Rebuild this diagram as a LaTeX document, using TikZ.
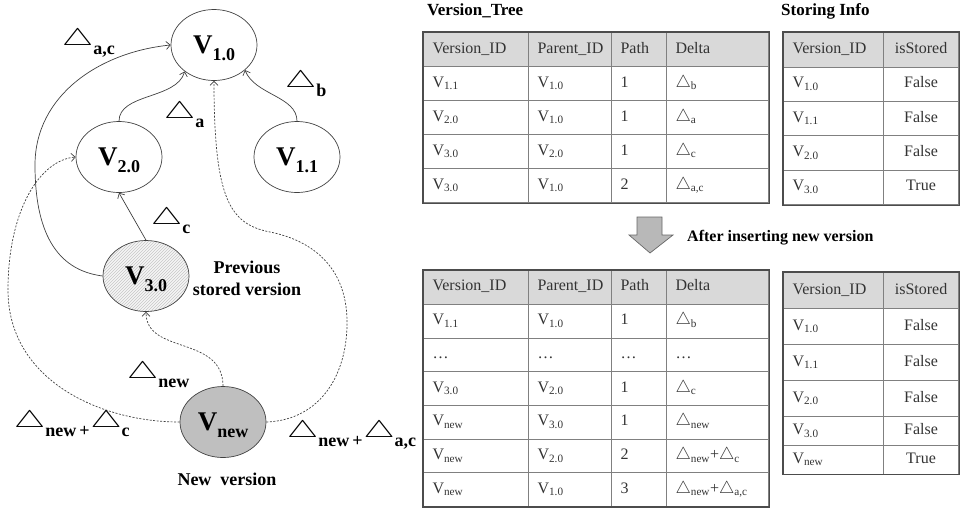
\documentclass[tikz,border=0pt]{standalone}
\usepackage{fontspec}
\setmainfont{Liberation Serif}
\usepackage{graphicx}
\usetikzlibrary{shapes.geometric,patterns,matrix,arrows.meta}

\definecolor{hdgray}{HTML}{D9D9D9}
\definecolor{lngray}{HTML}{404040}
\newcommand{\tabfont}{\fontsize{16}{19}\selectfont}
\newcommand{\grfont}{\fontsize{18}{22}\selectfont\bfseries}
\newcommand{\dl}{$\bigtriangleup$}
\newcommand{\bigdl}{\scalebox{3.5}[2.4]{\fontsize{10}{10}\selectfont$\bigtriangleup$}}
\newcommand{\dsub}[1]{\raisebox{-9pt}{#1}}
\newcommand{\vlab}[1]{{\fontsize{27}{27}\selectfont V}\raisebox{-7pt}{#1}}
\newcommand{\vs}[1]{V\textsubscript{#1}}

\begin{document}
\begin{tikzpicture}[%
  x=1pt, y=-1pt,
  ver/.style={ellipse, draw=lngray, line width=0.7pt, minimum width=86pt,
    minimum height=71pt, inner sep=0pt, font=\grfont, text depth=0pt},
  stored/.style={preaction={fill=black!4}, pattern=north east lines,
    pattern color=black!22},
  newv/.style={fill=black!25},
  edge/.style={draw=lngray, line width=0.7pt,
    -{Straight Barb[length=4pt,width=8pt]}},
  dedge/.style={edge, dash pattern=on 2pt off 1.5pt},
  dlab/.style={font=\grfont, anchor=base west, inner sep=0pt},
  txt/.style={font=\grfont, align=center, inner sep=0pt},
  ttl/.style={font=\fontsize{17}{20}\selectfont\bfseries, anchor=base west,
    inner sep=0pt},
  cell/.style={draw=gray, line width=0.7pt, inner xsep=9pt, inner ysep=0pt,
    text height=11pt, text depth=4pt, align=left, font=\tabfont,
    text=black!80, anchor=center},
  tbl/.style={matrix of nodes, nodes in empty cells, inner sep=0pt,
    anchor=north west, column sep=-0.7pt, row sep=-0.7pt, nodes={cell},
    row 1/.style={nodes={fill=hdgray}}},
  vcols/.style={column 1/.style={nodes={text width=87pt}},
    column 2/.style={nodes={text width=65pt}},
    column 3/.style={nodes={text width=37pt}},
    column 4/.style={nodes={text width=84pt}}},
  scols/.style={column 1/.style={nodes={text width=82pt}},
    column 2/.style={nodes={text width=57pt, align=center}}},
  tblout/.style={draw=black!70, line width=1.2pt},
  bigarrow/.style={draw=black!60, line width=0.7pt, fill=black!28}]

  \useasboundingbox (0,0) rectangle (960,507);

  % version graph
  \node[ver] (v10) at (214,45) {\vlab{1.0}};
  \node[ver] (v20) at (119,157) {\vlab{2.0}};
  \node[ver] (v11) at (297,157) {\vlab{1.1}};
  \node[ver, stored] (v30) at (146,276) {\vlab{3.0}};
  \node[ver, newv] (vnew) at (223,422) {\vlab{new}};

  \draw[edge] (v30.north) -- (v20.south);
  \draw[edge] (v20.north) .. controls +(0,-28) and +(-8,28) .. (v10.222);
  \draw[edge] (v11.north) .. controls +(0,-25) and +(10,25) .. (v10.-39);
  \draw[edge] (v30.west) .. controls (55,270) and (35,230) .. (35,165)
    .. controls (35,95) and (100,52) .. (v10.west);
  \draw[dedge] (vnew.west) .. controls (100,422) and (8,380) .. (8,290)
    .. controls (8,210) and (40,160) .. (v20.west);
  \draw[dedge] (vnew.east) .. controls (320,420) and (348,375) .. (347,320)
    .. controls (346,265) and (310,240) .. (270,232)
    .. controls (230,224) and (214,200) .. (v10.south);
  \draw[dedge] (vnew.north) .. controls (223,335) and (146,355) .. (v30.south);

  \node[dlab] (dac) at (62,45) {\bigdl\dsub{a,c}};
  \node[dlab] (da) at (164,118) {\bigdl\dsub{a}};
  \node[dlab] (db) at (285,87) {\bigdl\dsub{b}};
  \node[dlab] (dc) at (151,224) {\bigdl\dsub{c}};
  \node[dlab] (dnew) at (127,378) {\bigdl\dsub{new}};
  \node[dlab] (dnc) at (14,427)
    {\bigdl\dsub{new\,+}\hspace{1pt}\bigdl\dsub{c}};
  \node[dlab] (dnac) at (287,437)
    {\bigdl\dsub{new\,+}\hspace{1pt}\bigdl\dsub{a,c}};

  \node[txt] (prev) at (247,278) {Previous\\stored version};
  \node[txt] (newl) at (227,479) {New~~version};

  % tables
  \node[ttl] (ttree) at (427,15) {Version\_Tree};
  \node[ttl] (tstore) at (781,15) {Storing Info};

  \matrix (vtree) at (423,32) [tbl, vcols, nodes={minimum height=34pt}] {
    Version\_ID & Parent\_ID & Path & Delta \\
    \vs{1.1} & \vs{1.0} & 1 & \dl\textsubscript{b} \\
    \vs{2.0} & \vs{1.0} & 1 & \dl\textsubscript{a} \\
    \vs{3.0} & \vs{2.0} & 1 & \dl\textsubscript{c} \\
    \vs{3.0} & \vs{1.0} & 2 & \dl\textsubscript{a,c} \\
  };
  \draw[tblout] (vtree.north west) rectangle (vtree.south east);

  \matrix (sinfo) at (783,32) [tbl, scols, nodes={minimum height=34.4pt}] {
    Version\_ID & isStored \\
    \vs{1.0} & False \\
    \vs{1.1} & False \\
    \vs{2.0} & False \\
    \vs{3.0} & True \\
  };
  \draw[tblout] (sinfo.north west) rectangle (sinfo.south east);

  \draw[bigarrow] (637,217) -- (662,217) -- (662,235) -- (673,235)
    -- (650,253) -- (629,235) -- (637,235) -- cycle;
  \node[ttl, font=\fontsize{16}{19}\selectfont\bfseries] (after) at (687,241)
    {After inserting new version};

  \matrix (vtree2) at (423,270) [tbl, vcols, nodes={minimum height=33.7pt}] {
    Version\_ID & Parent\_ID & Path & Delta \\
    \vs{1.1} & \vs{1.0} & 1 & \dl\textsubscript{b} \\
    \ldots & \ldots & \ldots & \ldots \\
    \vs{3.0} & \vs{2.0} & 1 & \dl\textsubscript{c} \\
    \vs{new} & \vs{3.0} & 1 & \dl\textsubscript{new} \\
    \vs{new} & \vs{2.0} & 2 & \dl\textsubscript{new}+\dl\textsubscript{c} \\
    \vs{new} & \vs{1.0} & 3 & \dl\textsubscript{new}+\dl\textsubscript{a,c} \\
  };
  \draw[tblout] (vtree2.north west) rectangle (vtree2.south east);

  \matrix (sinfo2) at (783,272) [tbl, scols, nodes={minimum height=36pt},
    row 5/.style={nodes={minimum height=29pt}},
    row 6/.style={nodes={minimum height=28.5pt}}] {
    Version\_ID & isStored \\
    \vs{1.0} & False \\
    \vs{1.1} & False \\
    \vs{2.0} & False \\
    \vs{3.0} & False \\
    \vs{new} & True \\
  };
  \draw[tblout] (sinfo2.north west) rectangle (sinfo2.south east);
\end{tikzpicture}
\end{document}
